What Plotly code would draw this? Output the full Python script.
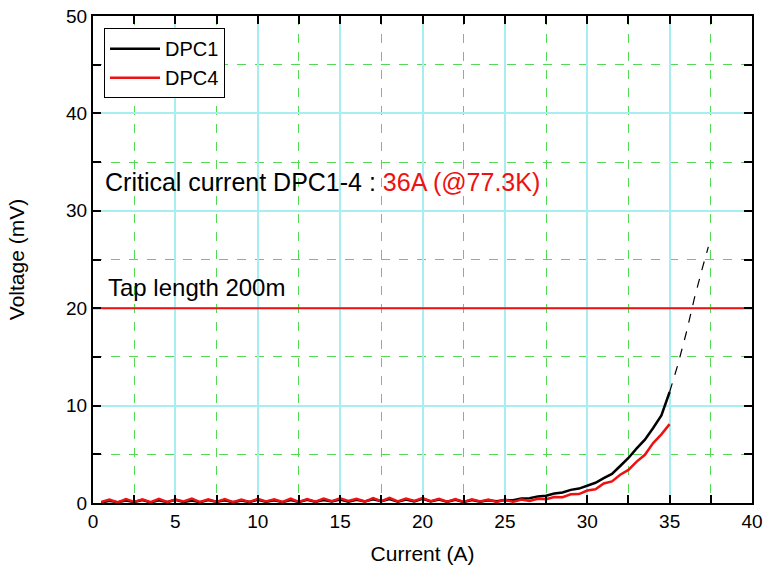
import plotly.graph_objects as go

# Current sweep (A) and measured voltage (mV)
current = [0.5, 1.0, 1.5, 2.0, 2.5, 3.0, 3.5, 4.0, 4.5, 5.0, 5.5, 6.0, 6.5, 7.0, 7.5,
           8.0, 8.5, 9.0, 9.5, 10.0, 10.5, 11.0, 11.5, 12.0, 12.5, 13.0, 13.5, 14.0,
           14.5, 15.0, 15.5, 16.0, 16.5, 17.0, 17.5, 18.0, 18.5, 19.0, 19.5, 20.0,
           20.5, 21.0, 21.5, 22.0, 22.5, 23.0, 23.5, 24.0, 24.5, 25.0, 25.5, 26.0,
           26.5, 27.0, 27.5, 28.0, 28.5, 29.0, 29.5, 30.0, 30.5, 31.0, 31.5, 32.0,
           32.5, 33.0, 33.5, 34.0, 34.5, 35.0]

dpc1 = [0.05, 0.22, 0.08, 0.25, 0.10, 0.30, 0.06, 0.28, 0.09, 0.32, 0.10, 0.26, 0.08,
        0.30, 0.12, 0.27, 0.07, 0.25, 0.10, 0.33, 0.12, 0.29, 0.09, 0.30, 0.10, 0.34,
        0.12, 0.30, 0.15, 0.36, 0.14, 0.32, 0.15, 0.38, 0.18, 0.40, 0.14, 0.36, 0.17,
        0.42, 0.15, 0.36, 0.12, 0.34, 0.10, 0.30, 0.14, 0.28, 0.18, 0.30, 0.28, 0.45,
        0.48, 0.68, 0.75, 0.98, 1.08, 1.35, 1.48, 1.80, 2.08, 2.55, 2.98, 3.80, 4.62,
        5.60, 6.50, 7.70, 9.00, 11.40]

dpc4 = [0.10, 0.35, 0.05, 0.40, 0.12, 0.38, 0.08, 0.42, 0.10, 0.36, 0.15, 0.45, 0.10,
        0.38, 0.12, 0.40, 0.08, 0.36, 0.12, 0.42, 0.15, 0.38, 0.10, 0.44, 0.12, 0.40,
        0.14, 0.46, 0.18, 0.48, 0.20, 0.44, 0.15, 0.50, 0.18, 0.52, 0.16, 0.46, 0.20,
        0.50, 0.18, 0.44, 0.14, 0.40, 0.12, 0.38, 0.15, 0.36, 0.10, 0.34, 0.12, 0.36,
        0.22, 0.44, 0.38, 0.62, 0.60, 0.90, 0.92, 1.28, 1.40, 2.00, 2.22, 2.90, 3.40,
        4.25, 4.95, 6.15, 7.05, 8.10]

# extrapolated DPC1 curve beyond the measurement
extrap_current = [35.0, 35.5, 36.0, 36.5, 37.0, 37.35]
extrap_voltage = [11.4, 14.2, 17.4, 21.0, 24.2, 26.3]

criterion_x = [0, 40]
criterion_y = [20, 20]

FONT = "Arial, Liberation Sans, sans-serif"
RED = "#ee1111"

fig = go.Figure()
fig.add_trace(go.Scatter(x=current, y=dpc1, mode="lines", name="DPC1",
                         line=dict(color="black", width=2.5)))
fig.add_trace(go.Scatter(x=current, y=dpc4, mode="lines", name="DPC4",
                         line=dict(color=RED, width=2.5)))
fig.add_trace(go.Scatter(x=extrap_current, y=extrap_voltage, mode="lines",
                         showlegend=False, line=dict(color="black", width=1.2, dash="dash")))
fig.add_trace(go.Scatter(x=criterion_x, y=criterion_y, mode="lines",
                         showlegend=False, line=dict(color=RED, width=2)))

fig.add_annotation(x=0.6, y=33.0, xanchor="left", yanchor="middle", showarrow=False,
                   text=f"Critical current DPC1-4 : <span style='color:{RED}'>36A (@77.3K)</span>",
                   font=dict(size=25, color="black", family=FONT))
fig.add_annotation(x=0.8, y=22.1, xanchor="left", yanchor="middle", showarrow=False,
                   text="Tap length 200m", font=dict(size=24, color="black", family=FONT))

axis_common = dict(
    showline=True, linecolor="black", linewidth=2, mirror="ticks",
    ticks="inside", ticklen=8, tickwidth=2, tickcolor="black",
    showgrid=True, gridcolor="#a8eef0", gridwidth=1.5, zeroline=False,
    automargin=False,
    tickfont=dict(size=19, color="black", family=FONT),
)

fig.update_xaxes(range=[0, 40], dtick=5, tick0=0,
                 minor=dict(dtick=2.5, ticks="inside", ticklen=8, tickwidth=2, tickcolor="black",
                            showgrid=True, gridcolor="#55d855", griddash="dash", gridwidth=1),
                 title=dict(text="Current (A)", font=dict(size=21, color="black", family=FONT),
                            standoff=16),
                 **axis_common)
fig.update_yaxes(range=[0, 50], dtick=10, tick0=0,
                 minor=dict(dtick=5, ticks="inside", ticklen=8, tickwidth=2, tickcolor="black",
                            showgrid=True, gridcolor="#55d855", griddash="dash", gridwidth=1),
                 title=dict(text="Voltage (mV)", font=dict(size=21, color="black", family=FONT),
                            standoff=36),
                 **axis_common)

fig.update_layout(
    width=766, height=575,
    margin=dict(l=93, r=14, t=16, b=72),
    plot_bgcolor="white", paper_bgcolor="white",
    font=dict(family=FONT, color="black"),
    legend=dict(x=0.0167, y=0.975, xanchor="left", yanchor="top",
                bordercolor="black", borderwidth=1, bgcolor="white",
                itemwidth=50, tracegroupgap=0,
                font=dict(size=20, color="black", family=FONT)),
)

# drop the default 8px page margin so the figure fills the window
fig.write_html("out.html", config={"displayModeBar": False},
               post_script="document.body.style.margin='0px';")
